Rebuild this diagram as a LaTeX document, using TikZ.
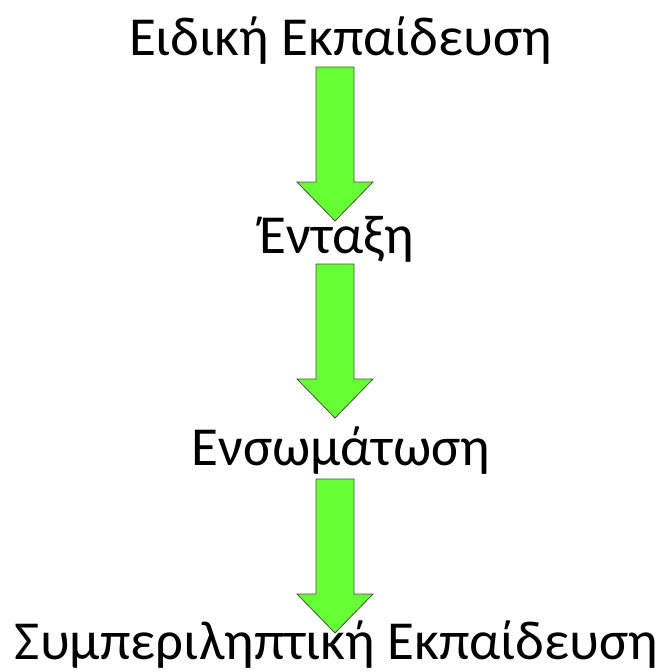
\documentclass[tikz,border=0pt]{standalone}
\usepackage{fontspec}
\setmainfont{Carlito}
\definecolor{arrowgreen}{RGB}{102,255,51}
\definecolor{arrowedge}{RGB}{70,80,70}
\tikzset{
  label text/.style={anchor=base, inner sep=0pt, font=\fontsize{55}{58}\selectfont},
  blockarrow/.pic={
    \draw[fill=arrowgreen, draw=arrowedge, line width=0.8pt, line join=miter]
      (-19pt,0pt) -- (19pt,0pt) -- (19pt,-115pt) -- (38pt,-115pt) -- (0pt,-154pt)
      -- (-38pt,-115pt) -- (-19pt,-115pt) -- cycle;
  }
}
\begin{document}
\begin{tikzpicture}[x=1pt,y=1pt]
\useasboundingbox (0,0) rectangle (671,-672);
\node[label text] (t1) at (340.5,-55) {Ειδική Εκπαίδευση};
\node[label text] (t2) at (336.5,-253) {Ένταξη};
\node[label text] (t3) at (341,-465) {Ενσωμάτωση};
\node[label text] (t4) at (336.5,-659) {Συμπεριληπτική Εκπαίδευση};
\pic at (335,-67) {blockarrow};
\pic at (335,-264) {blockarrow};
\pic at (335,-479) {blockarrow};
\end{tikzpicture}
\end{document}
